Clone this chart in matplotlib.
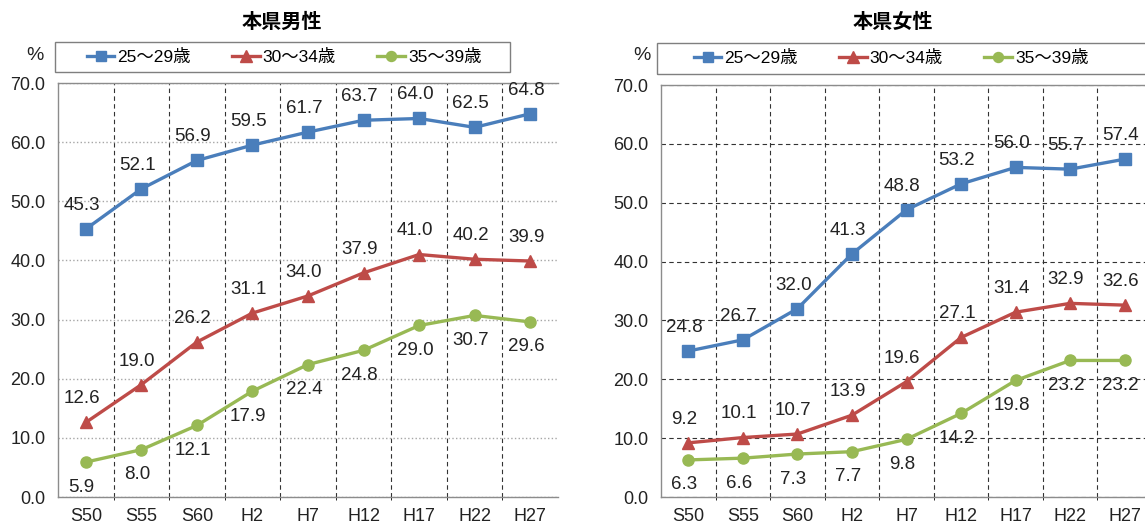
import matplotlib
matplotlib.use("Agg")
import matplotlib.pyplot as plt
from matplotlib.patches import Rectangle
from matplotlib.ticker import FixedLocator

plt.rcParams['font.family'] = ['Liberation Sans', 'Noto Sans CJK JP']

years = ['S50', 'S55', 'S60', 'H2', 'H7', 'H12', 'H17', 'H22', 'H27']
series_names = ['25～29歳', '30～34歳', '35～39歳']

male_25_29 = [45.3, 52.1, 56.9, 59.5, 61.7, 63.7, 64.0, 62.5, 64.8]
male_30_34 = [12.6, 19.0, 26.2, 31.1, 34.0, 37.9, 41.0, 40.2, 39.9]
male_35_39 = [5.9, 8.0, 12.1, 17.9, 22.4, 24.8, 29.0, 30.7, 29.6]

female_25_29 = [24.8, 26.7, 32.0, 41.3, 48.8, 53.2, 56.0, 55.7, 57.4]
female_30_34 = [9.2, 10.1, 10.7, 13.9, 19.6, 27.1, 31.4, 32.9, 32.6]
female_35_39 = [6.3, 6.6, 7.3, 7.7, 9.8, 14.2, 19.8, 23.2, 23.2]

colors = ['#4a7ebb', '#be4b48', '#98b954']
markers = ['s', '^', 'o']
label_dy = [17, 17, -18]   # points: above, above, below

W, H = 1145, 526
fig = plt.figure(figsize=(W / 100, H / 100), dpi=100)


def px(x0, y0, x1, y1):
    # pixel box (top-left origin) -> figure fraction rect
    return [x0 / W, 1 - y1 / H, (x1 - x0) / W, (y1 - y0) / H]


def draw_panel(rect, title, title_x, data, hgrid_style, legend_box, legend_cx, pct_x):
    ax = fig.add_axes(rect)
    x = list(range(len(years)))
    handles = []
    for vals, c, m, dy, name in zip(data, colors, markers, label_dy, series_names):
        h, = ax.plot(x, vals, color=c, marker=m, markersize=8 if m != '^' else 9,
                     linewidth=2.4, label=name, zorder=3, clip_on=False)
        handles.append(h)
        for xi, v in zip(x, vals):
            ax.annotate(f'{v:.1f}', (xi, v), xytext=(-3, dy), textcoords='offset points',
                        ha='center', va='center', fontsize=13.5, color='#222222',
                        zorder=4)

    ax.set_xlim(-0.5, len(years) - 0.5)
    ax.set_ylim(0, 70)
    ax.set_yticks(range(0, 71, 10))
    ax.set_yticklabels([f'{v:.1f}' for v in range(0, 71, 10)])
    ax.set_xticks(x)
    ax.set_xticklabels(years)
    ax.tick_params(axis='both', length=0, labelsize=13, colors='#222222')
    ax.tick_params(axis='y', pad=9)
    ax.tick_params(axis='x', pad=8)

    ax.xaxis.set_minor_locator(FixedLocator([i + 0.5 for i in range(len(years) - 1)]))
    ax.grid(True, axis='x', which='minor', color='#333333', linestyle=(0, (4, 3)),
            linewidth=0.8)
    ax.grid(True, axis='y', which='major', **hgrid_style)
    ax.set_axisbelow(True)

    for s in ['left', 'bottom', 'top']:
        ax.spines[s].set_color('#8c8c8c')
        ax.spines[s].set_linewidth(1.0)
    ax.spines['right'].set_visible(False)

    fig.text(title_x / W, 1 - 21 / H, title, ha='center', va='center',
             fontsize=14.5, fontweight='bold', family='Noto Sans CJK JP')
    fig.text(pct_x / W, 1 - 55 / H, '%', ha='center', va='center', fontsize=14,
             color='#222222')

    x0, y0, x1, y1 = legend_box
    fig.patches.append(Rectangle((x0 / W, 1 - y1 / H), (x1 - x0) / W, (y1 - y0) / H,
                                 transform=fig.transFigure, fill=False,
                                 edgecolor='#7f7f7f', linewidth=1.0))
    fig.legend(handles=handles, loc='center', bbox_to_anchor=(legend_cx / W, 1 - (y0 + y1) / 2 / H),
               ncol=3, frameon=False, fontsize=12.5, handlelength=1.6, handletextpad=0.15,
               columnspacing=2.4, markerscale=0.9)
    return ax


draw_panel(px(58, 83, 558, 497), '本県男性', 282,
           [male_25_29, male_30_34, male_35_39],
           dict(color='#a6a6a6', linestyle=':', linewidth=1.0),
           (55, 42, 510, 72), 284, 35)

draw_panel(px(661, 85, 1152, 497), '本県女性', 893,
           [female_25_29, female_30_34, female_35_39],
           dict(color='#333333', linestyle=(0, (4, 3)), linewidth=0.8),
           (657, 43, 1160, 74), 891, 642)

fig.savefig('out.png', dpi=100)
